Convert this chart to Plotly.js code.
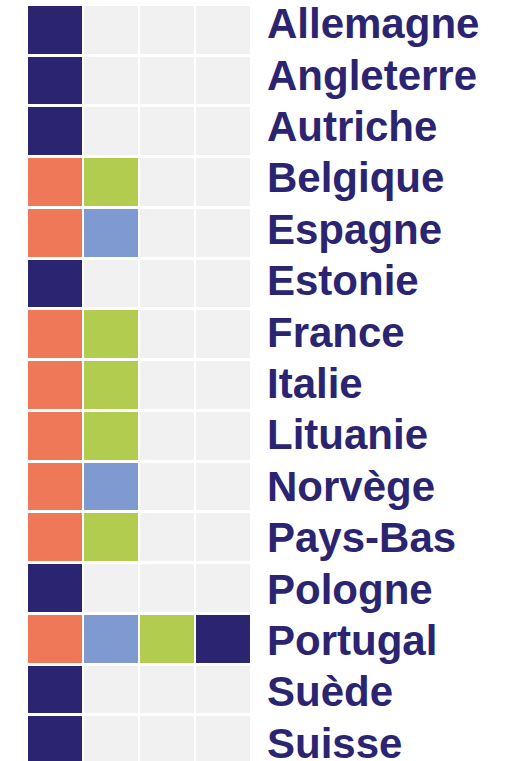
<!DOCTYPE html>
<html>
<head>
<meta charset="utf-8">
<script src="https://cdn.plot.ly/plotly-3.0.1.min.js"></script>
<style>
html,body{margin:0;padding:0;overflow:hidden;background:#fff;}
#chart{width:513px;height:766px;}
</style>
</head>
<body>
<div id="chart"></div>
<script>
// Countries (top to bottom)
const countries = ["Allemagne","Angleterre","Autriche","Belgique","Espagne","Estonie","France","Italie","Lituanie","Norvège","Pays-Bas","Pologne","Portugal","Suède","Suisse"];
// Columns
const columns = ["c1","c2","c3","c4"];
// Category codes: 0 = empty, 1 = navy, 2 = coral, 3 = green, 4 = blue
const cells = [
  [1,0,0,0],
  [1,0,0,0],
  [1,0,0,0],
  [2,3,0,0],
  [2,4,0,0],
  [1,0,0,0],
  [2,3,0,0],
  [2,3,0,0],
  [2,3,0,0],
  [2,4,0,0],
  [2,3,0,0],
  [1,0,0,0],
  [2,4,3,1],
  [1,0,0,0],
  [1,0,0,0]
];
const categoryColors = ["#f1f1f1","#2a2471","#ef7858","#b2cc4f","#7f9ad0"];

const n = categoryColors.length;
const colorscale = [];
categoryColors.forEach((c,i)=>{
  colorscale.push([i/n, c]);
  colorscale.push([(i+1)/n, c]);
});

const heat = {
  type: "heatmap",
  x: columns,
  y: countries,
  z: cells,
  zmin: -0.5,
  zmax: n - 0.5,
  colorscale: colorscale,
  showscale: false,
  xgap: 2,
  ygap: 3,
  hoverinfo: "skip"
};

// invisible carrier for the country labels axis
const rowIdx = countries.map((c,i)=>i);
const labelCarrier = {
  type: "scatter",
  mode: "markers",
  x: countries.map(()=>columns[0]),
  y: rowIdx,
  yaxis: "y2",
  marker: {opacity: 0, size: 1},
  hoverinfo: "skip",
  showlegend: false
};

const labelFont = {family: "Liberation Sans, Arial, sans-serif", size: 42, color: "#2a2471", weight: "bold"};

const layout = {
  width: 513,
  height: 766,
  margin: {l: 27, r: 262, t: 5, b: 0, pad: 0},
  paper_bgcolor: "#ffffff",
  plot_bgcolor: "#ffffff",
  xaxis: {visible: false, fixedrange: true},
  yaxis: {
    autorange: "reversed",
    showticklabels: false,
    showgrid: false,
    zeroline: false,
    showline: false,
    ticks: ""
  },
  yaxis2: {
    overlaying: "y",
    side: "right",
    type: "linear",
    range: [14.445, -0.36],
    tickmode: "array",
    tickvals: rowIdx,
    ticktext: countries,
    showgrid: false,
    zeroline: false,
    showline: false,
    ticks: "",
    ticklabelstandoff: 15,
    ticklabeloverflow: "allow",
    automargin: false,
    tickfont: labelFont
  },
  showlegend: false
};

Plotly.newPlot("chart", [heat, labelCarrier], layout, {staticPlot: true, displayModeBar: false});
</script>
</body>
</html>
